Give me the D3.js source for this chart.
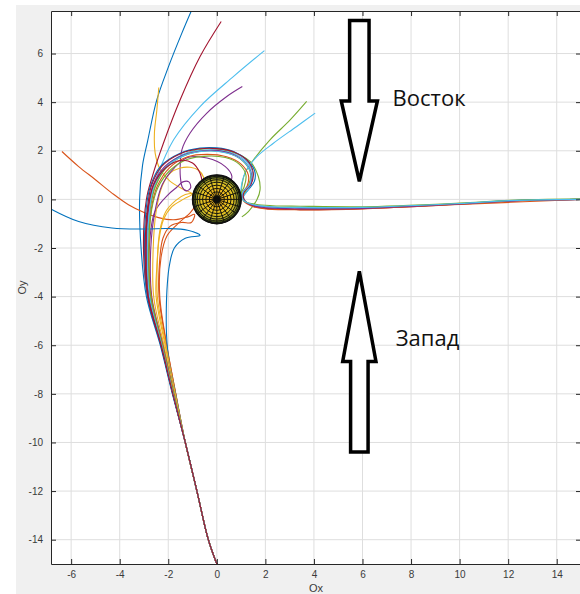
<!DOCTYPE html>
<html>
<head>
<meta charset="utf-8">
<script src="https://cdn.jsdelivr.net/npm/d3@7"></script>
<style>
  body { margin: 0; background: #fff; }
  .tick text { font-family: "Liberation Sans", Arial, sans-serif; font-size: 10px; fill: #3a3a3a; }
</style>
</head>
<body>
<div id="chart_orbits"></div>
<script>
// axis ticks
const xTicks = [-6, -4, -2, 0, 2, 4, 6, 8, 10, 12, 14];
const yTicks = [-14, -12, -10, -8, -6, -4, -2, 0, 2, 4, 6];

// shared approach path from the bottom
const trunk = [[0, -15], [-0.35, -14], [-0.82, -12], [-1.3, -10]];

// trajectories, plotted in MATLAB colour order (blue, orange, yellow, purple, green, cyan, red)
const blueTop = [[-1.83, -8], [-2.33, -6], [-2.9, -4], [-3.12, -2], [-3.18, 0], [-3.06, 1.4], [-2.85, 2.4], [-2.47, 4.1], [-1.99, 5.46], [-1.44, 6.84], [-0.9, 8.1]];
const orangeLeft = [[-1.69, -8], [-2.07, -6], [-2.38, -4], [-2.36, -2.6], [-2.22, -1.6], [-1.92, -1.1], [-1.45, -0.95], [-1.05, -0.95], [-0.92, -0.62], [-1.2, -0.72], [-1.78, -0.84], [-2.4, -0.75], [-2.95, -0.56], [-3.64, -0.22], [-4.32, 0.26], [-5.0, 0.81], [-5.69, 1.35], [-6.38, 1.97]];
const yellowTop = [[-1.72, -8], [-2.13, -6], [-2.5, -4], [-2.47, -2.76], [-2.38, -1.66], [-2.2, -0.84], [-1.85, -0.3], [-1.35, 0.02], [-1.02, 0.22], [-1.35, 0.4], [-1.92, 0.74], [-2.33, 1.22], [-2.54, 1.9], [-2.57, 2.73], [-2.47, 3.68], [-2.39, 4.6]];
const purpleTop = [[-1.78, -8], [-2.24, -6], [-2.72, -4], [-2.78, -2], [-2.55, -0.5], [-2.0, 0.2], [-1.65, 0.5], [-1.4, 0.72], [-1.15, 0.72], [-1.08, 0.48], [-1.25, 0.35], [-1.42, 0.5], [-1.5, 0.9], [-1.51, 1.35], [-1.44, 2.04], [-1.1, 2.73], [-0.41, 3.55], [0.41, 4.23], [1.05, 4.64]];
const greenHook = [[-1.79, -8], [-2.26, -6], [-2.75, -4], [-2.85, -2], [-2.75, -0.4], [-2.5, 0.6], [-2.0, 1.4], [-1.2, 1.92], [-0.3, 2.08], [0.55, 1.97], [1.37, 1.56], [1.71, 0.94], [1.78, 0.39], [1.65, -0.02], [1.3, -0.5], [1.03, -0.72]];
const cyanTop = [[-1.8, -8], [-2.28, -6], [-2.8, -4], [-2.92, -2], [-2.78, 0], [-2.47, 0.94], [-1.78, 2.45], [-0.69, 3.82], [0.68, 5.05], [1.96, 6.12]];
const redTop = [[-1.81, -8], [-2.3, -6], [-2.85, -4], [-3.02, -2], [-2.9, 0], [-2.64, 1.0], [-2.2, 2.31], [-1.51, 4.1], [-0.69, 5.88], [0.18, 7.32]];

const blueExit = [[-1.82, -8], [-2.31, -6], [-2.86, -4], [-2.98, -2], [-2.9, -0.3], [-2.74, 0.53], [-2.33, 1.35], [-1.51, 1.9], [-0.69, 2.11], [0, 2.12], [0.69, 1.97], [1.23, 1.63], [1.55, 1.2], [1.55, 0.75], [1.3, 0.4], [1.1, 0.12], [1.28, -0.17], [2.06, -0.3], [3.43, -0.35], [6, -0.35], [10, -0.18], [12.07, -0.06], [15, 0]];
const orangeNear = [[-1.69, -8], [-2.06, -6], [-2.35, -4], [-2.3, -2.4], [-2.05, -1.5], [-1.6, -1.0], [-1.1, -0.55], [-0.9, -0.3]];
const yellowArc = [[-1.75, -8], [-2.18, -6], [-2.6, -4], [-2.62, -2], [-2.5, -0.5], [-2.25, 0.55], [-1.92, 1.08], [-1.51, 1.29], [-1.1, 1.32], [-0.75, 1.2], [-0.55, 0.92], [-0.5, 0.6]];
const purpleArc = [[-1.77, -8], [-2.22, -6], [-2.68, -4], [-2.72, -2], [-2.55, -0.5], [-2.25, 0.6], [-1.75, 1.3], [-1.2, 1.72], [-0.4, 1.7], [0.35, 1.35], [0.62, 0.95], [0.5, 0.6]];
const greenUp = [[-1.8, -8], [-2.27, -6], [-2.78, -4], [-2.88, -2], [-2.75, -0.4], [-2.55, 0.55], [-2.05, 1.35], [-1.3, 1.82], [-0.4, 2.0], [0.4, 1.92], [1.05, 1.6], [1.38, 1.1], [1.3, 0.55], [1.02, 0.15], [1.03, 0.53], [1.16, 1.08], [1.51, 1.63], [2.19, 2.45], [3.02, 3.27], [3.7, 4.03]];
const cyanUp = [[-1.8, -8], [-2.28, -6], [-2.8, -4], [-2.9, -2], [-2.78, -0.4], [-2.6, 0.55], [-2.1, 1.35], [-1.35, 1.87], [-0.45, 2.03], [0.4, 1.97], [1.05, 1.7], [1.45, 1.2], [1.4, 0.6], [1.02, 0.1], [1.03, 0.67], [1.23, 1.22], [1.65, 1.76], [2.33, 2.31], [3.29, 3.0], [4.05, 3.55]];
const redExit = [[-1.81, -8], [-2.3, -6], [-2.84, -4], [-2.95, -2], [-2.85, -0.3], [-2.68, 0.6], [-2.25, 1.38], [-1.5, 1.88], [-0.7, 2.08], [0, 2.09], [0.7, 1.95], [1.25, 1.6], [1.5, 1.1], [1.4, 0.6], [1.12, 0.3], [1.12, 0.0], [1.5, -0.27], [2.1, -0.38], [3.43, -0.42], [6, -0.38], [10, -0.2], [12.07, -0.07], [15, 0]];

const blueCusp = [[-1.7, -8], [-1.98, -6.6], [-2.07, -5.6], [-2.08, -4.5], [-2.04, -3.5], [-1.95, -2.7], [-1.75, -2.0], [-1.3, -1.6], [-0.69, -1.48], [-1.2, -1.27], [-2.0, -1.2], [-2.95, -1.22], [-4.32, -1.18], [-5.69, -0.91], [-6.9, -0.36]];
const orangeExit = [[-1.77, -8], [-2.23, -6], [-2.7, -4], [-2.8, -2], [-2.7, -0.4], [-2.45, 0.55], [-1.95, 1.3], [-1.2, 1.75], [-0.4, 1.85], [0.4, 1.75], [1.0, 1.45], [1.3, 1.0], [1.25, 0.55], [1.05, 0.25], [1.1, -0.05], [1.5, -0.3], [2.1, -0.4], [3.43, -0.43], [6, -0.39], [10, -0.21], [15, 0]];
const yellowLow = [[-1.71, -8], [-2.1, -6], [-2.45, -4], [-2.45, -2.6], [-2.35, -1.3], [-2.1, -0.5], [-1.7, -0.05], [-1.3, 0.2], [-0.95, 0.25]];
const purpleExit = [[-1.8, -8], [-2.27, -6], [-2.78, -4], [-2.9, -2], [-2.8, -0.3], [-2.62, 0.6], [-2.15, 1.35], [-1.4, 1.82], [-0.55, 2.0], [0.3, 1.97], [0.95, 1.7], [1.4, 1.15], [1.38, 0.62], [1.08, 0.3], [1.08, 0.0], [1.45, -0.24], [2.1, -0.35], [3.43, -0.39], [6, -0.37], [10, -0.19], [12.07, -0.06], [15, 0]];
const greenExit = [[-1.78, -8], [-2.24, -6], [-2.72, -4], [-2.8, -2], [-2.68, -0.4], [-2.42, 0.5], [-1.9, 1.22], [-1.2, 1.65], [-0.4, 1.78], [0.35, 1.72], [0.92, 1.45], [1.2, 1.0], [1.12, 0.5], [1.0, 0.25], [1.1, -0.05], [1.6, -0.2], [2.3, -0.26], [3.43, -0.28], [6, -0.3], [10, -0.15], [12.07, -0.04], [15, 0.02]];
const cyanExit = [[-1.8, -8], [-2.27, -6], [-2.77, -4], [-2.86, -2], [-2.76, -0.35], [-2.58, 0.55], [-2.1, 1.32], [-1.35, 1.8], [-0.5, 1.98], [0.35, 1.92], [1.0, 1.65], [1.38, 1.15], [1.35, 0.6], [1.06, 0.28], [1.08, -0.02], [1.5, -0.22], [2.2, -0.3], [3.43, -0.33], [6, -0.33], [10, -0.17], [12.07, -0.05], [15, 0]];
const redLoop = [[-1.81, -8], [-2.29, -6], [-2.82, -4], [-2.92, -2], [-2.82, -0.3], [-2.6, 0.6], [-2.1, 1.3], [-1.5, 1.6], [-1.0, 1.5], [-0.7, 1.1], [-0.6, 0.7]];

const trajectories = [
  blueTop, orangeLeft, yellowTop, purpleTop, greenHook, cyanTop, redTop,
  blueExit, orangeNear, yellowArc, purpleArc, greenUp, cyanUp, redExit,
  blueCusp, orangeExit, yellowLow, purpleExit, greenExit, cyanExit, redLoop
];

// earth: latitude rings (radius in Earth radii) seen from the pole
const earthRings = [1.0, 0.988, 0.951, 0.891, 0.809, 0.707, 0.588, 0.454, 0.309, 0.156];
const earthMeridians = d3.range(0, 360, 18);

// annotation labels
const labels = ["Восток", "Запад"];

const width = 580,
    height = 594,
    margin = ({ top: 11, right: -1, bottom: 30, left: 51 });

const palette = ["#0072BD", "#D95319", "#EDB120", "#7E2F8E", "#77AC30", "#4DBEEE", "#A2142F"];
const ringFill = ["#2c4414", "#3b5619", "#617420", "#9a9a26", "#c6b426", "#dfc023", "#e8c021", "#ebb91f", "#e6ad1c", "#0e0e0a"];

const svg = d3.select("#chart_orbits")
  .append("svg")
  .attr("width", width)
  .attr("height", height)
  .attr("viewBox", [0, 0, width, height]);

// figure background (MATLAB grey)
svg.append("rect")
  .attr("x", 16).attr("y", 5)
  .attr("width", width - 16).attr("height", height - 5)
  .attr("fill", "#f0f0f0");

let x = d3.scaleLinear()
  .domain([-6.83, 15])
  .range([margin.left, width - margin.right]);

let y = d3.scaleLinear()
  .domain([-15, 7.75])
  .range([height - margin.bottom, margin.top]);

const x0 = x.range()[0], x1 = x.range()[1], y0 = y.range()[1], y1 = y.range()[0];

svg.append("rect")
  .attr("x", x0).attr("y", y0)
  .attr("width", x1 - x0).attr("height", y1 - y0)
  .attr("fill", "#fff");

// grid
svg.append("g")
  .selectAll("line")
  .data(xTicks)
  .join("line")
  .attr("x1", d => x(d)).attr("x2", d => x(d))
  .attr("y1", y0).attr("y2", y1)
  .attr("stroke", "#dedede");

svg.append("g")
  .selectAll("line")
  .data(yTicks)
  .join("line")
  .attr("y1", d => y(d)).attr("y2", d => y(d))
  .attr("x1", x0).attr("x2", x1)
  .attr("stroke", "#dedede");

svg.append("clipPath")
  .attr("id", "plot-clip")
  .append("rect")
  .attr("x", x0).attr("y", y0)
  .attr("width", x1 - x0).attr("height", y1 - y0);

const plot = svg.append("g").attr("clip-path", "url(#plot-clip)");

let line = d3.line()
  .x(d => x(d[0]))
  .y(d => y(d[1]))
  .curve(d3.curveCatmullRom.alpha(0.5));

let colour = d3.scaleOrdinal(d3.range(7), palette);

trajectories.forEach((t, i) => {
  plot.append("path")
    .datum(trunk.concat(t))
    .attr("d", line)
    .attr("fill", "none")
    .attr("stroke", colour(i % 7))
    .attr("stroke-width", 1.1)
    .attr("stroke-linejoin", "round");
});

// the Earth, drawn over the trajectories
const r = x(1) - x(0);
const earth = plot.append("g")
  .attr("transform", `translate(${x(0)},${y(0)})`);

earth.selectAll("circle")
  .data(earthRings)
  .join("circle")
  .attr("r", d => d * r)
  .attr("fill", (d, i) => ringFill[i])
  .attr("stroke", "#15150c")
  .attr("stroke-width", 1);

earth.selectAll("line")
  .data(earthMeridians)
  .join("line")
  .attr("x1", d => Math.cos(d * Math.PI / 180) * earthRings[9] * r)
  .attr("y1", d => Math.sin(d * Math.PI / 180) * earthRings[9] * r)
  .attr("x2", d => Math.cos(d * Math.PI / 180) * r)
  .attr("y2", d => Math.sin(d * Math.PI / 180) * r)
  .attr("stroke", "#15150c")
  .attr("stroke-width", 1);

earth.append("circle")
  .attr("r", r)
  .attr("fill", "none")
  .attr("stroke", "#111")
  .attr("stroke-width", 1.5);

// hand-drawn direction arrows
function arrow(cx, tail, base, tip, shaft, head) {
  return [
    [cx - shaft, tail], [cx + shaft, tail], [cx + shaft, base], [cx + head, base],
    [cx, tip], [cx - head, base], [cx - shaft, base]
  ].map(p => [x(p[0]), y(p[1])]);
}

svg.append("polygon")
  .attr("points", arrow(5.87, 7.36, 4.05, 0.74, 0.4, 0.745).join(" "))
  .attr("fill", "#fff")
  .attr("stroke", "#000")
  .attr("stroke-width", 3.5)
  .attr("stroke-linejoin", "miter");

svg.append("polygon")
  .attr("points", arrow(5.87, -10.39, -6.67, -2.96, 0.36, 0.685).join(" "))
  .attr("fill", "#fff")
  .attr("stroke", "#000")
  .attr("stroke-width", 3.5)
  .attr("stroke-linejoin", "miter");

svg.append("text")
  .attr("x", x(7.24)).attr("y", y(3.85))
  .attr("font-family", "'Open Sans', sans-serif")
  .attr("font-size", 22)
  .attr("fill", "#111")
  .text(labels[0]);

svg.append("text")
  .attr("x", x(7.37)).attr("y", y(-6.05))
  .attr("font-family", "'Open Sans', sans-serif")
  .attr("font-size", 22)
  .attr("fill", "#111")
  .text(labels[1]);

// axes, ticks pointing inward like MATLAB
svg.append("g")
  .attr("transform", `translate(0,${y1})`)
  .call(d3.axisBottom(x).tickValues(xTicks).tickSize(-5).tickPadding(7).tickSizeOuter(0))
  .call(g => g.selectAll("line, path").attr("stroke", "#262626"));

svg.append("g")
  .attr("transform", `translate(${x0},0)`)
  .call(d3.axisLeft(y).tickValues(yTicks).tickSize(-5).tickPadding(8).tickSizeOuter(0))
  .call(g => g.selectAll("line, path").attr("stroke", "#262626"));

svg.append("g")
  .attr("transform", `translate(0,${y0})`)
  .call(d3.axisTop(x).tickValues(xTicks).tickSize(-5).tickFormat("").tickSizeOuter(0))
  .call(g => g.selectAll("line, path").attr("stroke", "#262626"));

svg.append("g")
  .attr("transform", `translate(${x1},0)`)
  .call(d3.axisRight(y).tickValues(yTicks).tickSize(-5).tickFormat("").tickSizeOuter(0))
  .call(g => g.selectAll("line, path").attr("stroke", "#262626"));

svg.selectAll(".tick text").text(function () { return this.textContent.replace("−", "-"); });

svg.append("text")
  .attr("x", (x0 + x1) / 2)
  .attr("y", height - 2)
  .attr("text-anchor", "middle")
  .attr("font-family", "'Liberation Sans', Arial, sans-serif")
  .attr("font-size", 11)
  .attr("fill", "#3a3a3a")
  .text("Ox");

svg.append("text")
  .attr("transform", `translate(26,${(y0 + y1) / 2}) rotate(-90)`)
  .attr("text-anchor", "middle")
  .attr("font-family", "'Liberation Sans', Arial, sans-serif")
  .attr("font-size", 11)
  .attr("fill", "#3a3a3a")
  .text("Oy");
</script>
</body>
</html>
